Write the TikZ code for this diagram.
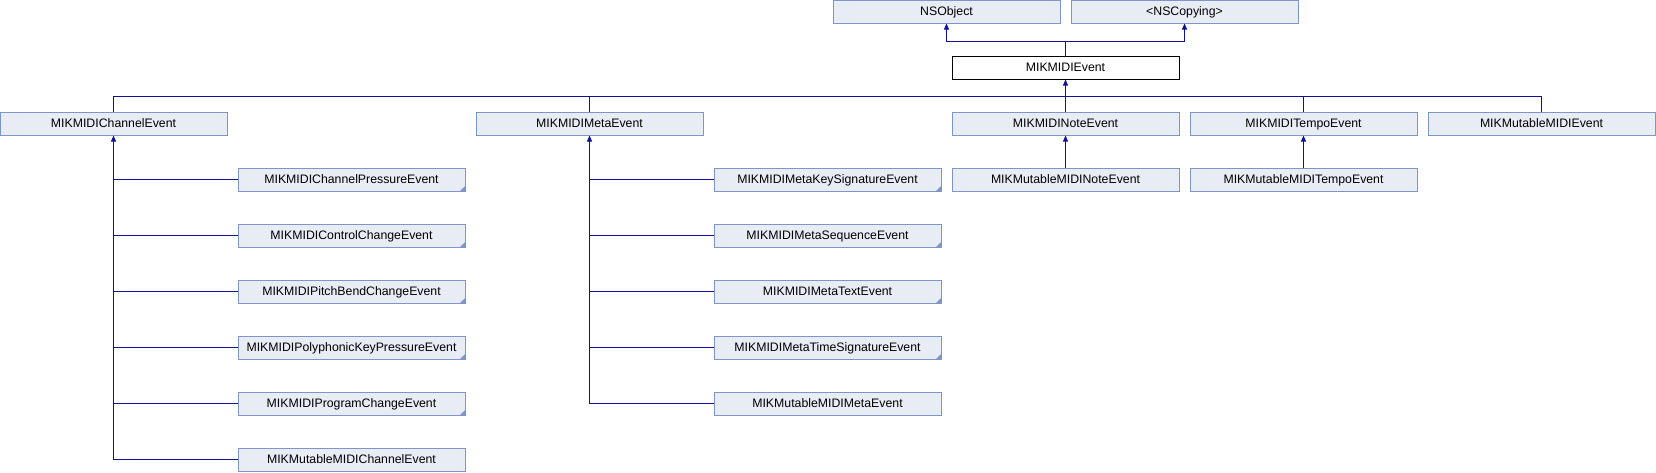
\documentclass[tikz,border=0pt]{standalone}
\usepackage{fontspec}
\setmainfont{Liberation Sans}
\usetikzlibrary{arrows.meta}
\definecolor{edgeblue}{RGB}{16,16,160}
\definecolor{boxline}{RGB}{124,149,202}
\definecolor{boxfill}{RGB}{232,236,244}

\begin{document}
\begin{tikzpicture}[x=1pt, y=-1pt,
		cls/.style={draw=boxline, fill=boxfill, line width=1pt, minimum width=227pt,
			minimum height=23pt, inner sep=0pt, text height=9pt, text depth=1.4pt,
			font=\fontsize{12.3}{14}\selectfont},
		rootcls/.style={cls, draw=black, fill=white},
		link/.style={edgeblue, line width=1pt},
		inherit/.style={link, -{Triangle[width=5pt, length=6pt]}}]
			\useasboundingbox (0, 0) rectangle (1656, 472);
			% 基类
			\node[cls] (nsobject) at (946.5, 11.5) {NSObject};
			\node[cls] (nscopying) at (1184.5, 11.5) {<NSCopying>};
			\node[rootcls] (event) at (1065.5, 67.5) {MIKMIDIEvent};
			% 第一层子类
			\node[cls] (channel) at (113.5, 123.5) {MIKMIDIChannelEvent};
			\node[cls] (meta) at (589.5, 123.5) {MIKMIDIMetaEvent};
			\node[cls] (note) at (1065.5, 123.5) {MIKMIDINoteEvent};
			\node[cls] (tempo) at (1303.5, 123.5) {MIKMIDITempoEvent};
			\node[cls] (mutable) at (1541.5, 123.5) {MIKMutableMIDIEvent};
			\node[cls] (mutnote) at (1065.5, 179.5) {MIKMutableMIDINoteEvent};
			\node[cls] (muttempo) at (1303.5, 179.5) {MIKMutableMIDITempoEvent};
			% 第二层子类
			\foreach \name/\txt [count=\i] in {chpress/MIKMIDIChannelPressureEvent,
				ctrl/MIKMIDIControlChangeEvent, pitch/MIKMIDIPitchBendChangeEvent,
				polykey/MIKMIDIPolyphonicKeyPressureEvent, prog/MIKMIDIProgramChangeEvent,
				mutchannel/MIKMutableMIDIChannelEvent}
			\node[cls] (\name) at (351.5, 123.5+56*\i) {\txt};
			\foreach \name/\txt [count=\i] in {keysig/MIKMIDIMetaKeySignatureEvent,
				sequence/MIKMIDIMetaSequenceEvent, text/MIKMIDIMetaTextEvent,
				timesig/MIKMIDIMetaTimeSignatureEvent, mutmeta/MIKMutableMIDIMetaEvent}
			\node[cls] (\name) at (827.5, 123.5+56*\i) {\txt};
			% 角标
			\foreach \name in {chpress, ctrl, pitch, polykey, prog, keysig, sequence, text, timesig}
			\fill[boxline] (\name.south east) -- ++(-6, 0) -- ++(6, -6) -- cycle;
			% 继承关系
			\coordinate (join) at (1065.5, 41);
			\coordinate (bus) at (1065.5, 96);
			\draw[link] (event.north) -- (join);
			\draw[inherit] (join) -| (nsobject.south);
			\draw[inherit] (join) -| (nscopying.south);
			\draw[inherit] (bus) -- (event.south);
			\foreach \name in {channel, meta, note, tempo, mutable}
			\draw[link] (\name.north) |- (bus);
			\draw[inherit] (mutnote.north) -- (note.south);
			\draw[inherit] (muttempo.north) -- (tempo.south);
			\draw[inherit] (mutchannel.west) -| (channel.south);
			\foreach \name in {chpress, ctrl, pitch, polykey, prog}
			\draw[link] (\name.west) -- (\name.west -| channel.south);
			\draw[inherit] (mutmeta.west) -| (meta.south);
			\foreach \name in {keysig, sequence, text, timesig}
			\draw[link] (\name.west) -- (\name.west -| meta.south);
		\end{tikzpicture}
\end{document}
